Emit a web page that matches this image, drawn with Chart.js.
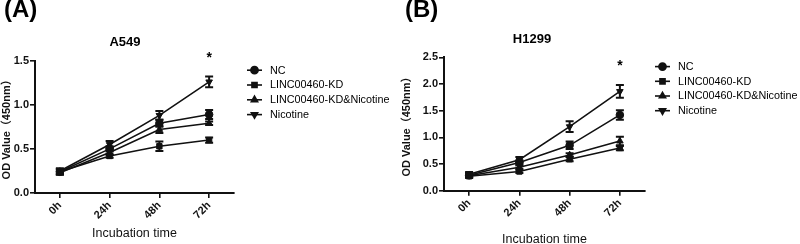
<!DOCTYPE html>
<html>
<head>
<meta charset="utf-8">
<script src="https://cdn.jsdelivr.net/npm/chart.js@4/dist/chart.umd.min.js"></script>
<style>
  html, body { margin: 0; padding: 0; background: #fff; }
  #wrap { position: relative; width: 800px; height: 244px; overflow: hidden; }
  .panel { position: absolute; top: 0; width: 400px; height: 244px; }
</style>
</head>
<body>
<div id="wrap">
  <div class="panel" style="left:0"><canvas id="cA" width="400" height="244"></canvas></div>
  <div class="panel" style="left:400px"><canvas id="cB" width="400" height="244"></canvas></div>
</div>
<script>
// ---------- data ----------
const categories = ['0h', '24h', '48h', '72h'];
const seriesNames = ['NC', 'LINC00460-KD', 'LINC00460-KD&Nicotine', 'Nicotine'];

// A549
const a549_NC        = [0.24, 0.50, 0.79, 0.89];
const a549_NC_err    = [0.03, 0.03, 0.04, 0.05];
const a549_KD        = [0.24, 0.42, 0.53, 0.60];
const a549_KD_err    = [0.03, 0.02, 0.055, 0.03];
const a549_KDNic     = [0.23, 0.46, 0.72, 0.79];
const a549_KDNic_err = [0.02, 0.03, 0.04, 0.02];
const a549_Nic       = [0.25, 0.55, 0.88, 1.26];
const a549_Nic_err   = [0.03, 0.04, 0.05, 0.06];
const a549_yTicks    = [0.0, 0.5, 1.0, 1.5];

// H1299
const h1299_NC        = [0.29, 0.53, 0.85, 1.42];
const h1299_NC_err    = [0.04, 0.04, 0.07, 0.09];
const h1299_KD        = [0.27, 0.36, 0.59, 0.80];
const h1299_KD_err    = [0.03, 0.03, 0.04, 0.04];
const h1299_KDNic     = [0.28, 0.44, 0.67, 0.93];
const h1299_KDNic_err = [0.03, 0.03, 0.03, 0.08];
const h1299_Nic       = [0.31, 0.58, 1.20, 1.86];
const h1299_Nic_err   = [0.04, 0.05, 0.10, 0.12];
const h1299_yTicks    = [0.0, 0.5, 1.0, 1.5, 2.0, 2.5];

const FONT = "'Liberation Sans', Arial, 'Noto Sans CJK SC', sans-serif";
const markerStyles = [
  { pointStyle: 'circle', rotation: 0 },
  { pointStyle: 'rect', rotation: 0 },
  { pointStyle: 'triangle', rotation: 0 },
  { pointStyle: 'triangle', rotation: 180 }
];

// ---------- plugins ----------
const errorBarPlugin = {
  id: 'errorBars',
  afterDatasetsDraw(chart) {
    const ctx = chart.ctx, xs = chart.scales.x, ys = chart.scales.y;
    ctx.save();
    ctx.strokeStyle = '#111';
    ctx.lineWidth = 2;
    chart.data.datasets.forEach(ds => {
      ds.data.forEach((v, i) => {
        const e = ds.errors[i];
        const x = xs.getPixelForValue(i);
        const yT = ys.getPixelForValue(v + e);
        const yB = ys.getPixelForValue(v - e);
        const w = 4;
        ctx.beginPath();
        ctx.moveTo(x, yT); ctx.lineTo(x, yB);
        ctx.moveTo(x - w, yT); ctx.lineTo(x + w, yT);
        ctx.moveTo(x - w, yB); ctx.lineTo(x + w, yB);
        ctx.stroke();
      });
    });
    ctx.restore();
  }
};

function drawMarker(ctx, style, x, y, r) {
  if (Chart.helpers && Chart.helpers.drawPoint) {
    Chart.helpers.drawPoint(ctx, { pointStyle: style.pointStyle, rotation: style.rotation, radius: r, borderWidth: 1 }, x, y);
    return;
  }
  ctx.beginPath(); ctx.arc(x, y, r, 0, Math.PI * 2); ctx.fill();
}

const decorPlugin = {
  id: 'decor',
  afterDraw(chart, args, o) {
    const ctx = chart.ctx, ca = chart.chartArea, xs = chart.scales.x, ys = chart.scales.y;
    ctx.save();
    // panel letter
    ctx.fillStyle = '#000';
    ctx.font = 'bold 24px ' + FONT;
    ctx.textAlign = 'left';
    ctx.textBaseline = 'alphabetic';
    ctx.fillText(o.letter, o.letterX, 17);
    // title
    ctx.font = 'bold 13px ' + FONT;
    ctx.textAlign = 'center';
    ctx.fillText(o.title, ca.left + o.titleDx, o.titleY);
    // significance asterisk above 72h
    const last = categories.length - 1;
    let top = Infinity;
    chart.data.datasets.forEach(ds => {
      top = Math.min(top, ys.getPixelForValue(ds.data[last] + ds.errors[last]));
    });
    ctx.font = 'bold 14px ' + FONT;
    ctx.fillText('*', xs.getPixelForValue(last), top - 15);
    // legend
    ctx.font = '10.8px ' + FONT;
    ctx.textAlign = 'left';
    ctx.textBaseline = 'middle';
    chart.data.datasets.forEach((ds, i) => {
      const y = ca.top + o.legTop + i * o.legGap;
      const x0 = ca.right + o.legDx;
      ctx.strokeStyle = '#111';
      ctx.fillStyle = '#111';
      ctx.lineWidth = 1.6;
      ctx.beginPath(); ctx.moveTo(x0, y); ctx.lineTo(x0 + 15, y); ctx.stroke();
      drawMarker(ctx, markerStyles[i], x0 + 7.5, y, 3.6);
      ctx.fillStyle = '#000';
      ctx.fillText(ds.label, x0 + 23, y + 0.5);
    });
    ctx.restore();
  }
};

// ---------- chart builder ----------
function makeChart(id, cfg) {
  const datasets = cfg.series.map((s, i) => ({
    label: seriesNames[i],
    data: s.values,
    errors: s.errors,
    borderColor: '#111',
    backgroundColor: '#111',
    borderWidth: 1.6,
    pointStyle: markerStyles[i].pointStyle,
    rotation: markerStyles[i].rotation,
    pointRadius: 3.8,
    pointBorderWidth: 1,
    tension: 0,
    fill: false
  }));
  return new Chart(document.getElementById(id), {
    type: 'line',
    data: { labels: categories, datasets },
    plugins: [errorBarPlugin, decorPlugin],
    options: {
      responsive: false,
      animation: false,
      events: [],
      layout: { padding: { top: cfg.padTop, right: cfg.padRight, left: 0, bottom: 0 } },
      plugins: {
        legend: { display: false },
        title: { display: false },
        tooltip: { enabled: false },
        decor: cfg.decor
      },
      scales: {
        x: {
          type: 'category',
          offset: true,
          afterFit(s) { s.height = cfg.xHeight; },
          grid: { drawOnChartArea: false, drawTicks: true, tickLength: 5, color: '#111', lineWidth: 1.6 },
          border: { display: true, color: '#111', width: 2 },
          ticks: { maxRotation: 45, minRotation: 45, padding: 1, color: '#111', font: { family: FONT, size: 11, weight: 'bold' } },
          title: { display: true, text: 'Incubation time', color: '#111', font: { family: FONT, size: 12.5, lineHeight: 1.2 }, padding: { top: 0, bottom: cfg.xTitlePad } }
        },
        y: {
          min: cfg.yTicks[0],
          max: cfg.yTicks[cfg.yTicks.length - 1],
          afterFit(s) { s.width = cfg.yWidth; },
          afterBuildTicks(s) { s.ticks = cfg.yTicks.map(v => ({ value: v })); },
          grid: { drawOnChartArea: false, drawTicks: true, tickLength: 5, color: '#111', lineWidth: 1.6 },
          border: { display: true, color: '#111', width: 2 },
          ticks: { padding: 1, color: '#111', font: { family: FONT, size: 11, weight: 'bold' }, callback: v => Number(v).toFixed(1) },
          title: { display: true, text: 'OD Value（450nm）', color: '#111', font: { family: FONT, size: 11, weight: 'bold' }, padding: { top: 0, bottom: 0 } }
        }
      }
    }
  });
}

makeChart('cA', {
  padTop: 60.7, padRight: 166, xHeight: 51, yWidth: 35, xTitlePad: 3,
  yTicks: a549_yTicks,
  series: [
    { values: a549_NC, errors: a549_NC_err },
    { values: a549_KD, errors: a549_KD_err },
    { values: a549_KDNic, errors: a549_KDNic_err },
    { values: a549_Nic, errors: a549_Nic_err }
  ],
  decor: { letter: '(A)', letterX: 4, title: 'A549', titleDx: 90, titleY: 46, legDx: 13, legTop: 9.5, legGap: 14.8 }
});

makeChart('cB', {
  padTop: 57.3, padRight: 155, xHeight: 53.3, yWidth: 44, xTitlePad: -3,
  yTicks: h1299_yTicks,
  series: [
    { values: h1299_NC, errors: h1299_NC_err },
    { values: h1299_KD, errors: h1299_KD_err },
    { values: h1299_KDNic, errors: h1299_KDNic_err },
    { values: h1299_Nic, errors: h1299_Nic_err }
  ],
  decor: { letter: '(B)', letterX: 5, title: 'H1299', titleDx: 88, titleY: 43, legDx: 10, legTop: 9.3, legGap: 14.7 }
});
</script>
</body>
</html>
